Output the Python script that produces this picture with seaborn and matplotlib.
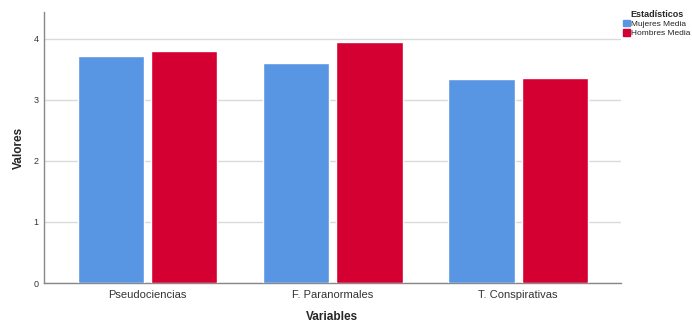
import matplotlib
matplotlib.use("Agg")
import matplotlib.pyplot as plt
import seaborn as sns
import pandas as pd

categories = ["Pseudociencias", "F. Paranormales", "T. Conspirativas"]
mujeres_media = [3.72, 3.61, 3.34]
hombres_media = [3.80, 3.95, 3.36]
series_names = ["Mujeres Media", "Hombres Media"]

df = pd.DataFrame({
    "Variables": categories * 2,
    "Valores": mujeres_media + hombres_media,
    "Estadisticos": [series_names[0]] * 3 + [series_names[1]] * 3,
})

sns.set_style("white")
plt.rcParams["font.family"] = ["Arial", "Liberation Sans", "DejaVu Sans"]

fig = plt.figure(figsize=(6.92, 3.22), dpi=100)
ax = fig.add_axes([0.0636, 0.121, 0.897 - 0.0636, 0.963 - 0.121])

palette = {"Mujeres Media": "#5895E3", "Hombres Media": "#D50032"}
sns.barplot(data=df, x="Variables", y="Valores", hue="Estadisticos",
            palette=palette, width=0.79, gap=0.096, ax=ax, saturation=1,
            errorbar=None, zorder=3)

ax.set_ylim(0, 4.44)
ax.set_xlim(-0.558, 2.553)
ax.set_yticks([0, 1, 2, 3, 4])
ax.yaxis.grid(True, color="#DADADA", linewidth=1, zorder=0)
ax.set_axisbelow(True)
for s in ["top", "right"]:
    ax.spines[s].set_visible(False)
for s in ["left", "bottom"]:
    ax.spines[s].set_color("#888888")
    ax.spines[s].set_linewidth(1)
ax.tick_params(axis="y", labelsize=6.5, colors="#333333", length=0, pad=4)
ax.tick_params(axis="x", labelsize=8, colors="#333333", length=0, pad=5)
ax.set_xlabel("Variables", fontsize=8.5, fontweight="bold", labelpad=8)
ax.set_ylabel("Valores", fontsize=8.5, fontweight="bold", labelpad=6)

ax.get_legend().remove()
handles = [plt.Rectangle((0, 0), 1, 1, color=palette[n]) for n in series_names]
leg = fig.legend(handles, series_names, title="Estadísticos",
                 loc="upper left", bbox_to_anchor=(0.893, 0.985),
                 frameon=False, fontsize=6.0, title_fontsize=6.5,
                 handlelength=0.8, handleheight=0.8, handletextpad=0.2,
                 labelspacing=0.15, borderpad=0.1)
leg.get_title().set_fontweight("bold")

fig.savefig("out.png", dpi=100)
